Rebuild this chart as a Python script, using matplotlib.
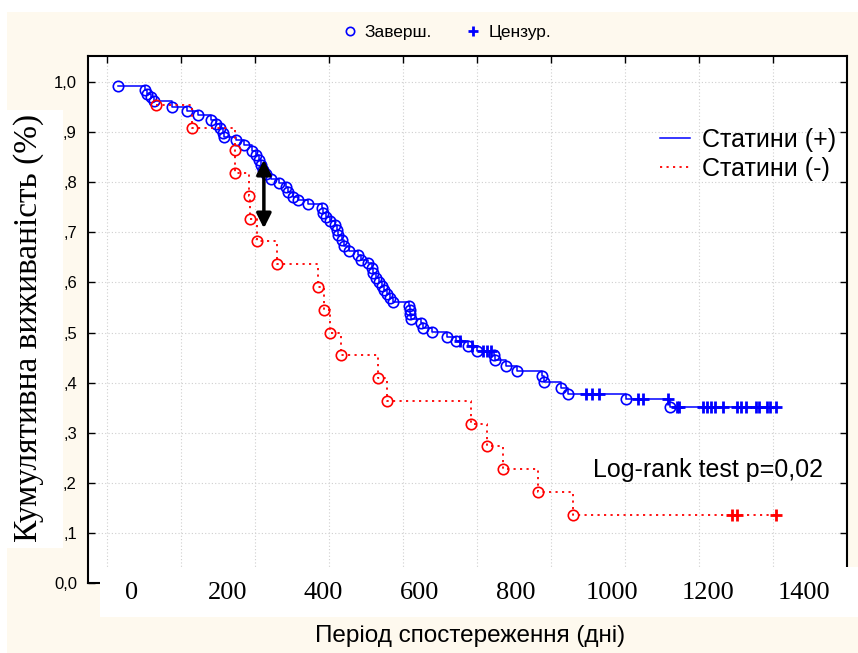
import numpy as np
import matplotlib.pyplot as plt
from matplotlib.lines import Line2D
from matplotlib.patches import Rectangle

plt.rcParams['font.family'] = ['Liberation Sans', 'DejaVu Sans']

# Statins (+): event times (days) and survival after each event
blue_event_days = [22, 77, 81, 89, 95, 132, 162, 184, 211, 221, 229, 235, 237, 262, 278,
                   294, 302, 308, 312, 316, 322, 332, 349, 363, 367, 377, 387, 407, 436, 438,
                   444, 452, 462, 466, 468, 476, 480, 491, 509, 515, 529, 537, 539, 545, 551,
                   557, 562, 568, 574, 580, 613, 614, 615, 616, 637, 641, 659, 689, 707, 732,
                   750, 785, 787, 809, 831, 882, 886, 920, 935, 1052, 1141]
blue_event_surv = [0.992, 0.984, 0.976, 0.970, 0.962, 0.950, 0.942, 0.934, 0.924, 0.916,
                   0.908, 0.898, 0.890, 0.884, 0.874, 0.862, 0.854, 0.844, 0.834, 0.824,
                   0.816, 0.806, 0.798, 0.790, 0.780, 0.770, 0.764, 0.756, 0.748, 0.739,
                   0.731, 0.723, 0.715, 0.705, 0.695, 0.685, 0.673, 0.663, 0.655, 0.645,
                   0.639, 0.629, 0.619, 0.609, 0.601, 0.593, 0.585, 0.577, 0.569, 0.561,
                   0.553, 0.545, 0.537, 0.527, 0.519, 0.509, 0.501, 0.491, 0.483, 0.473,
                   0.463, 0.455, 0.445, 0.433, 0.423, 0.413, 0.401, 0.389, 0.377, 0.367, 0.351]
blue_censor_days = [716, 740, 762, 770, 778, 971, 983, 997, 1076, 1087, 1137, 1156, 1160,
                    1208, 1216, 1224, 1233, 1249, 1277, 1285, 1295, 1316, 1322, 1338, 1344, 1356]

# Statins (-)
red_event_days = [99, 172, 259, 260, 288, 289, 304, 345, 428, 440, 452, 474, 549, 568,
                  738, 770, 803, 874, 945]
red_event_surv = [0.955, 0.909, 0.864, 0.818, 0.773, 0.727, 0.682, 0.636, 0.591, 0.545,
                  0.500, 0.455, 0.409, 0.364, 0.318, 0.273, 0.227, 0.182, 0.136]
red_censor_days = [1267, 1277, 1356]

day_labels = [0, 200, 400, 600, 800, 1000, 1200, 1400]
surv_ticks = [0.0, 0.1, 0.2, 0.3, 0.4, 0.5, 0.6, 0.7, 0.8, 0.9, 1.0]
surv_labels = ['0,0', ',1', ',2', ',3', ',4', ',5', ',6', ',7', ',8', ',9', '1,0']

# gap between the groups marked with an arrow
arrow_day = 318
arrow_top, arrow_bottom = 0.845, 0.708

W, H = 858, 653
cream = '#FEF9EE'
fig = plt.figure(figsize=(W / 100, H / 100), dpi=100, facecolor=cream)
fig.patches.append(Rectangle((0, 0), 7 / W, 1, transform=fig.transFigure,
                             facecolor='white', edgecolor='none', zorder=-1))
fig.patches.append(Rectangle((0, 1 - 12 / H), 1, 12 / H, transform=fig.transFigure,
                             facecolor='white', edgecolor='none', zorder=-1))

ax = fig.add_axes([88 / W, 1 - 583 / H, 759 / W, 527 / H])
ax.set_xlim(-38.5, 1500)
ax.set_ylim(0, 1.052)
ax.set_xticks(np.arange(0, 1400, 150))
ax.set_xticklabels([])
ax.set_yticks(surv_ticks)
ax.set_yticklabels(surv_labels, fontsize=12)
ax.tick_params(direction='in', length=5, width=1, top=True, right=True, pad=8)
ax.grid(True, color='#cfcfcf', linestyle=(0, (1, 2)), linewidth=0.8)
for sp in ax.spines.values():
    sp.set_linewidth(1.5)


def surv_at(days, surv, t):
    i = np.searchsorted(days, t, side='right') - 1
    return np.asarray(surv)[i]


groups = [
    (blue_event_days, blue_event_surv, blue_censor_days, '#0000FF', '-', 'Статини (+)'),
    (red_event_days, red_event_surv, red_censor_days, '#FF0000', (0, (1.2, 2.4)), 'Статини (-)'),
]
legend_lines = []
for days, surv, cens, col, ls, name in groups:
    x = list(days) + [cens[-1]]
    y = list(surv) + [surv[-1]]
    ln, = ax.plot(x, y, drawstyle='steps-post', color=col, linestyle=ls,
                  linewidth=1.1 if ls == '-' else 1.3)
    legend_lines.append((ln, name))
    ax.plot(days, surv, 'o', ms=7.5, mfc='none', mec=col, mew=1.2)
    cy = surv_at(days, surv, cens)
    ax.plot(cens, cy, '+', ms=8, color=col, mew=2)

ax.annotate('', xy=(arrow_day, arrow_bottom), xytext=(arrow_day, arrow_top),
            arrowprops=dict(arrowstyle='<|-|>', color='black', lw=2.5, mutation_scale=22,
                            shrinkA=0, shrinkB=0))

ax.legend([l for l, _ in legend_lines], [n for _, n in legend_lines],
          loc='center left', bbox_to_anchor=(0.753, 0.814), frameon=False,
          fontsize=18, handlelength=1.2, handletextpad=0.5, labelspacing=0.2,
          borderpad=0, borderaxespad=0)

fig.text(593 / W, 1 - 470 / H, 'Log-rank test p=0,02', fontsize=18,
         ha='left', va='center')

# top key for markers
key = [Line2D([], [], ls='none', marker='o', ms=6, mfc='none', mec='#0000FF', mew=1.2),
       Line2D([], [], ls='none', marker='+', ms=7, color='#0000FF', mew=2)]
fig.legend(key, ['Заверш.', 'Цензур.'], loc='center', bbox_to_anchor=(446 / W, 1 - 32 / H),
           ncol=2, frameon=False, fontsize=12.5, handletextpad=0.35, columnspacing=1.9,
           handlelength=1.0)

# white strip with day labels below the plot
strip = fig.add_axes([100 / W, 1 - 617 / H, 758 / W, 50 / H], zorder=2)
strip.set_facecolor('white')
strip.set_xlim(-64.7, 1513)
strip.set_ylim(0, 1)
strip.set_xticks([])
strip.set_yticks([])
for sp in strip.spines.values():
    sp.set_visible(False)
for d in day_labels:
    strip.text(d, 0.48, str(d), ha='center', va='center', fontsize=19,
               family=['Liberation Serif', 'DejaVu Serif'])

# white box behind the vertical title
fig.patches.append(Rectangle((0, 1 - 548 / H), 63 / W, 438 / H, transform=fig.transFigure,
                             facecolor='white', edgecolor='none', zorder=1))
fig.text(29 / W, 1 - 328 / H, 'Кумулятивна виживаність (%)', rotation=90,
         ha='center', va='center', fontsize=24, zorder=3,
         family=['Liberation Serif', 'DejaVu Serif'])

fig.text(470 / W, 1 - 636 / H, 'Період спостереження (дні)', ha='center', va='center',
         fontsize=17.5)

fig.savefig('out.png', dpi=100, facecolor=cream)
